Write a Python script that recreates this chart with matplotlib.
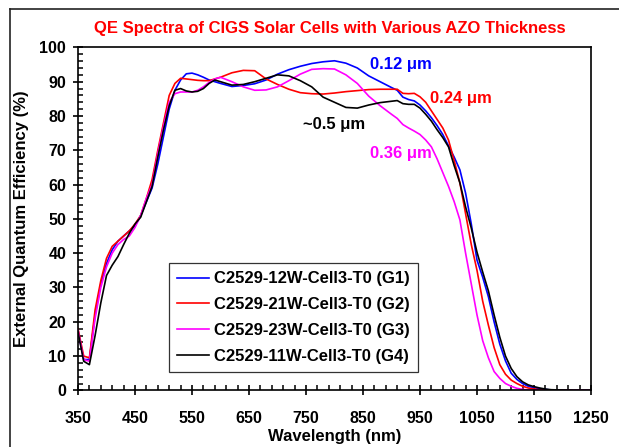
import matplotlib
matplotlib.use("Agg")
import matplotlib.pyplot as plt
from matplotlib.lines import Line2D

plt.rcParams['font.family'] = ['Liberation Sans', 'DejaVu Sans']

wavelength = [350, 360, 370, 380, 390, 400, 410, 420, 430, 440, 450, 460, 470, 480, 490,
              500, 510, 520, 530, 540, 550, 560, 570, 580, 590, 600,
              620, 640, 660, 680, 700, 720, 740, 760, 780, 800, 820, 840, 860, 880, 900,
              910, 920, 930, 940, 950, 960, 970, 980, 990, 1000, 1010, 1020, 1030, 1040,
              1050, 1060, 1070, 1080, 1090, 1100, 1110, 1120, 1130, 1140, 1150, 1160,
              1170, 1180, 1200, 1220, 1250]

qe_g1 = [17.5, 9, 9, 22, 31, 37, 41, 43.5, 45, 46.5, 48, 51, 55, 59, 66,
         74, 82, 87.5, 90.5, 92.3, 92.5, 92, 91.3, 90.5, 90, 89.5,
         88.6, 88.9, 89.4, 90.5, 92.2, 93.5, 94.5, 95.3, 95.8, 96.1, 95.4, 94, 91.7, 90, 88.3,
         87.5, 85.5, 84.8, 84.4, 83.2, 81.5, 79.5, 77.2, 74.6, 71.3, 68, 64.3, 57.5, 48.5,
         38, 33, 27.3, 20, 13.5, 8.6, 5, 3.2, 2, 1.2, 0.8, 0.5,
         0.3, 0.1, 0, 0, 0]

qe_g2 = [18, 10, 9.5, 23.5, 32, 38.5, 42, 43.5, 45, 46.5, 48.5, 51, 56, 61.5, 70,
         78, 86, 89.5, 91, 90.8, 90.6, 90.4, 90.3, 90.3, 90.8, 91.3,
         92.6, 93.3, 93.2, 90.8, 89.2, 87.8, 86.8, 86.5, 86.4, 86.7, 87.1, 87.4, 87.7, 87.8, 87.8,
         87.8, 86.6, 86.5, 86.6, 85.6, 84, 81.5, 79, 76.5, 73, 67, 60.5, 51.5, 42.5,
         35, 26, 19, 12.5, 7.5, 4.7, 3, 2, 1.2, 0.7, 0.4, 0.2,
         0.1, 0, 0, 0, 0]

qe_g3 = [17.5, 9, 8.5, 21, 30, 36, 40, 42.5, 44, 45, 47.5, 51, 56, 60, 69,
         77, 84, 86.5, 87, 87, 87, 87.5, 88.5, 89.8, 90.8, 91.3,
         90, 88.5, 87.5, 87.6, 88.5, 90.3, 92.2, 93.6, 93.8, 93.7, 92, 89.5, 85.8, 83, 80.5,
         79.3, 77.5, 76.5, 75.6, 74.6, 73, 71, 67.5, 63.5, 59.5, 55, 49.7, 40, 31,
         22, 14.5, 9.5, 5.5, 3.5, 2, 1.2, 0.6, 0.3, 0.1, 0, 0,
         0, 0, 0, 0, 0]

qe_g4 = [17, 8.5, 7.5, 16, 25.5, 33.5, 36.5, 39, 42.5, 45.8, 48.5, 50.5, 55, 59.5, 68,
         76, 83, 87.5, 88, 87.3, 87, 87.2, 88, 89.5, 90.5, 90,
         89, 89.2, 90, 91, 92, 91.7, 90.3, 88.5, 85.5, 84, 82.5, 82.3, 83.2, 83.9, 84.3,
         84.5, 83.6, 83.4, 83.4, 82.3, 80.5, 78.5, 76, 73.7, 71, 65.5, 60.5, 53.5, 47.3,
         40.3, 34.5, 29, 22, 15.5, 10, 6.4, 4, 2.5, 1.6, 1.1, 0.7,
         0.4, 0.2, 0.1, 0, 0]

labels = ["C2529-12W-Cell3-T0 (G1)", "C2529-21W-Cell3-T0 (G2)",
          "C2529-23W-Cell3-T0 (G3)", "C2529-11W-Cell3-T0 (G4)"]
colors = ["#0000FF", "#FF0000", "#FF00FF", "#000000"]

x_ticks = [350, 450, 550, 650, 750, 850, 950, 1050, 1150, 1250]
y_ticks = [0, 10, 20, 30, 40, 50, 60, 70, 80, 90, 100]

ann_text = ["0.12 \u03bcm", "0.24 \u03bcm", "~0.5 \u03bcm", "0.36 \u03bcm"]
ann_x = [862, 967, 745, 862]
ann_y = [95, 85, 77.5, 69]
ann_col = ["#0000FF", "#FF0000", "#000000", "#FF00FF"]

W, H = 619, 447
fig = plt.figure(figsize=(W / 100, H / 100), dpi=100)
ax = fig.add_axes([78 / W, 1 - 390.4 / H, (591 - 78) / W, (390.4 - 47.4) / H])

for y, c, lab in zip([qe_g1, qe_g2, qe_g3, qe_g4], colors, labels):
    ax.plot(wavelength, y, color=c, lw=1.2, label=lab)

ax.set_xlim(350, 1250)
ax.set_ylim(0, 100)
ax.set_xticks(x_ticks)
ax.set_xticks([v for v in range(350, 1251, 20) if v not in x_ticks], minor=True)
ax.set_yticks(y_ticks)
ax.set_yticks([v for v in range(0, 101, 2) if v not in y_ticks], minor=True)
ax.tick_params(which='major', direction='inout', length=7, width=1.2)
ax.tick_params(which='minor', direction='in', length=3.5, width=1.1)
ax.tick_params(axis='x', which='major', pad=11)
ax.tick_params(axis='y', which='major', pad=5)
for lab in ax.get_xticklabels() + ax.get_yticklabels():
    lab.set_fontweight('bold')
    lab.set_fontsize(11.5)
for s in ax.spines.values():
    s.set_linewidth(1.2)

for t, x, y, c in zip(ann_text, ann_x, ann_y, ann_col):
    ax.text(x, y, t, color=c, fontsize=12, fontweight='bold', ha='left', va='center')

leg = ax.legend(loc='upper left', bbox_to_anchor=(169 / W, 1 - 263 / H),
                bbox_transform=fig.transFigure, prop={'weight': 'bold', 'size': 12},
                frameon=True, fancybox=False, shadow=False, borderaxespad=0,
                handlelength=1.9, handletextpad=0.3, labelspacing=0.65, borderpad=0.5)
leg.get_frame().set_edgecolor('black')
leg.get_frame().set_linewidth(0.9)

fig.text(330 / W, 1 - 29 / H, "QE Spectra of CIGS Solar Cells with Various AZO Thickness",
         color='#FF0000', fontsize=12, fontweight='bold', ha='center', va='center')
fig.text(335 / W, 1 - 437 / H, "Wavelength (nm)", fontsize=12, fontweight='bold',
         ha='center', va='center')
fig.text(22 / W, 1 - 219 / H, "External Quantum Efficiency (%)", fontsize=12,
         fontweight='bold', ha='center', va='center', rotation=90)

# outer frame (extends beyond image to the right and bottom)
fig.add_artist(Line2D([10 / W, 10 / W], [1 - 9 / H, -0.05], transform=fig.transFigure,
                      color='#222222', lw=1.2))
fig.add_artist(Line2D([10 / W, 1.05], [1 - 9 / H, 1 - 9 / H], transform=fig.transFigure,
                      color='#222222', lw=1.2))

fig.savefig("out.png", dpi=100)
